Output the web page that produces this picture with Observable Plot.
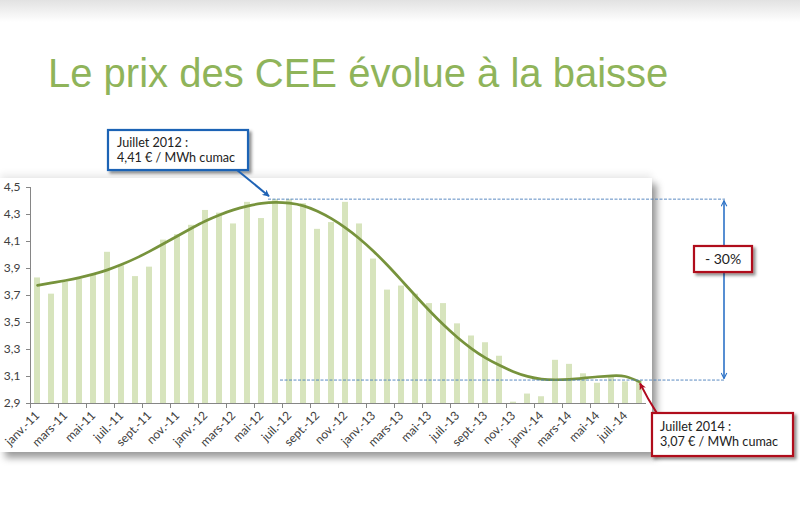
<!DOCTYPE html>
<html><head><meta charset="utf-8">
<script src="https://cdn.jsdelivr.net/npm/d3@7"></script>
<script src="https://cdn.jsdelivr.net/npm/@observablehq/plot@0.6"></script>
<style>
body{margin:0;background:#fff;}
#wrap{position:relative;width:800px;height:524px;overflow:hidden;background:#fff;}
#topgrad{position:absolute;left:0;top:0;width:800px;height:22px;background:linear-gradient(#e2e2e2,#ffffff);}
#panel{position:absolute;left:0;top:178px;width:652px;height:274px;background:#fff;box-shadow:0 -4px 7px rgba(0,0,0,0.08),5px 6px 7px rgba(0,0,0,0.38);}
#header{position:relative;height:115px;z-index:1;}
#title{position:absolute;left:48px;top:53px;font-family:"Liberation Sans",Arial,sans-serif;font-size:40px;line-height:40px;color:#8fb45a;white-space:nowrap;}
#chart{position:relative;z-index:1;height:409px;}
</style></head>
<body><div id="wrap"><div id="topgrad"></div><div id="panel"></div>
<div id="header"><div id="title">Le prix des CEE évolue à la baisse</div></div>
<div id="chart"></div></div>
<script>
const months = ["janv.-11","févr.-11","mars-11","avr.-11","mai-11","juin-11","juil.-11","août-11","sept.-11","oct.-11","nov.-11","déc.-11",
"janv.-12","févr.-12","mars-12","avr.-12","mai-12","juin-12","juil.-12","août-12","sept.-12","oct.-12","nov.-12","déc.-12",
"janv.-13","févr.-13","mars-13","avr.-13","mai-13","juin-13","juil.-13","août-13","sept.-13","oct.-13","nov.-13","déc.-13",
"janv.-14","févr.-14","mars-14","avr.-14","mai-14","juin-14","juil.-14","août-14"];
const prices = [3.83,3.71,3.80,3.82,3.85,4.02,3.92,3.84,3.91,4.11,4.15,4.22,
4.33,4.31,4.23,4.39,4.27,4.41,4.41,4.38,4.19,4.24,4.39,4.23,
3.97,3.74,3.77,3.71,3.64,3.64,3.49,3.40,3.35,3.25,2.91,2.97,
2.95,3.22,3.19,3.12,3.05,3.10,3.06,3.07];
const trend = [3.775,3.793,3.811,3.832,3.858,3.890,3.929,3.975,4.027,4.083,4.141,4.198,
4.252,4.297,4.334,4.362,4.382,4.390,4.384,4.364,4.324,4.269,4.201,4.121,
4.028,3.924,3.812,3.698,3.587,3.483,3.389,3.307,3.238,3.183,3.136,3.101,
3.081,3.076,3.079,3.088,3.098,3.105,3.100,3.060];
const yTicks = [2.9,3.1,3.3,3.5,3.7,3.9,4.1,4.3,4.5];
const labelMonths = months.filter((d,i)=>i%2===0);
const peakValue = 4.41, lowValue = 3.07;
const peakLabel = ["Juillet 2012 :","4,41 € / MWh cumac"];
const lowLabel = ["Juillet 2014 :","3,07 € / MWh cumac"];
const changeLabel = "- 30%";

const W=800,H=409,mL=30,mR=154,mT=72,mB=121;
const step=(W-mL-mR)/months.length;
const data = months.map((m,i)=>({month:m, price:prices[i], trend:trend[i]}));
const fmt = d => d.toFixed(1).replace(".", ",");
const plot = Plot.plot({
  width:W, height:H, marginLeft:mL, marginRight:mR, marginTop:mT, marginBottom:mB,
  style:{background:"transparent", fontFamily:"Lato, sans-serif", fontSize:"12px", color:"#404040", overflow:"visible"},
  x:{type:"band", domain:months, paddingInner:0.57, paddingOuter:0.285, label:null},
  y:{domain:[2.9,4.5], label:null},
  marks:[
    Plot.barY(data,{x:"month", y1:2.9, y2:"price", fill:"#d7e4bd"}),
    Plot.ruleY([2.9],{stroke:"#868686"}),
    Plot.ruleX([months[0]],{y1:2.9,y2:4.5,dx:-step/2,stroke:"#868686"}),
    Plot.axisY({ticks:yTicks, tickFormat:fmt, tickSize:4, tickPadding:6, stroke:"#868686", fill:"#404040", fontSize:12, label:null}),
    Plot.axisX({ticks:labelMonths, tickSize:5, dx:-step/2, tickFormat:()=>"", stroke:"#868686", label:null}),
    Plot.axisX({ticks:labelMonths, tickSize:0, tickRotate:-45, tickPadding:10, fill:"#404040", fontSize:12, label:null}),
    Plot.lineY(data,{x:"month", y:"trend", stroke:"#77933c", strokeWidth:2.7, curve:"natural"})
  ]
});
document.getElementById("chart").appendChild(plot);

const xs = plot.scale("x"), ys = plot.scale("y");
const cx = m => xs.apply(m) + xs.bandwidth/2;
const yPeak = ys.apply(peakValue), yLow = ys.apply(lowValue);
const xEnd = W - mR + 79;
const svg = d3.select(plot);
const defs = svg.append("defs");
const f = defs.append("filter").attr("id","sh").attr("x","-20%").attr("y","-20%").attr("width","150%").attr("height","160%");
f.append("feDropShadow").attr("dx",2.5).attr("dy",2.5).attr("stdDeviation",1.8).attr("flood-color","#000").attr("flood-opacity",0.45);
function marker(id,color,open){
  const m = defs.append("marker").attr("id",id).attr("viewBox","0 0 10 10").attr("refX",9).attr("refY",5)
    .attr("markerWidth",7).attr("markerHeight",7).attr("markerUnits","userSpaceOnUse").attr("orient","auto-start-reverse");
  if(open) m.append("path").attr("d","M1,1L9,5L1,9").attr("fill","none").attr("stroke",color).attr("stroke-width",1.6);
  else m.append("path").attr("d","M0,0L10,5L0,10L3,5Z").attr("fill",color);
}
marker("mb","#1f63b5",false);
marker("mv","#2c72c7",true);
marker("mr","#b00a1e",false);
const g = svg.append("g").attr("font-family","Lato, sans-serif").attr("text-anchor","start");
// reference lines
g.append("line").attr("x1",cx(months[17])-7).attr("x2",xEnd).attr("y1",yPeak).attr("y2",yPeak)
 .attr("stroke","#4a7ebb").attr("stroke-width",0.9).attr("stroke-dasharray","3 1.5");
g.append("line").attr("x1",cx(months[17])+5).attr("x2",xEnd).attr("y1",yLow).attr("y2",yLow)
 .attr("stroke","#4a7ebb").attr("stroke-width",0.9).attr("stroke-dasharray","3 1.5");
// vertical double arrow
g.append("line").attr("x1",xEnd-1).attr("x2",xEnd-1).attr("y1",yPeak+1.5).attr("y2",yLow-1.5)
 .attr("stroke","#2c72c7").attr("stroke-width",1.6).attr("marker-start","url(#mv)").attr("marker-end","url(#mv)");
// -30% box
g.append("rect").attr("x",xEnd-31).attr("y",131).attr("width",58).attr("height",26)
 .attr("fill","#fff").attr("stroke","#b0101e").attr("stroke-width",2.2).attr("filter","url(#sh)");
g.append("text").attr("x",xEnd-2).attr("y",149).attr("text-anchor","middle").attr("font-size",14).attr("fill","#222").text(changeLabel);
// peak box
g.append("rect").attr("x",108).attr("y",15).attr("width",140).attr("height",40)
 .attr("fill","#fff").attr("stroke","#1f63b5").attr("stroke-width",2.2).attr("filter","url(#sh)");
peakLabel.forEach((t,i)=>g.append("text").attr("x",117).attr("y",31.5+i*15).attr("font-size",12.6).attr("fill","#222").text(t));
g.append("line").attr("x1",237).attr("y1",55).attr("x2",cx(months[17])-6).attr("y2",yPeak-3)
 .attr("stroke","#1f63b5").attr("stroke-width",2).attr("marker-end","url(#mb)");
// low box
const xl = cx(months[43]), yl = ys.apply(trend[43]);
g.append("path").attr("d",`M${xl+18},${yl+32} Q${xl+9},${yl+18} ${xl+1},${yl+2}`).attr("fill","none")
 .attr("stroke","#b00a1e").attr("stroke-width",2).attr("marker-end","url(#mr)");
g.append("rect").attr("x",652).attr("y",298).attr("width",141).attr("height",43)
 .attr("fill","#fff").attr("stroke","#b0101e").attr("stroke-width",2.2).attr("filter","url(#sh)");
lowLabel.forEach((t,i)=>g.append("text").attr("x",660).attr("y",315.5+i*15.5).attr("font-size",12.6).attr("fill","#222").text(t));
</script></body></html>
